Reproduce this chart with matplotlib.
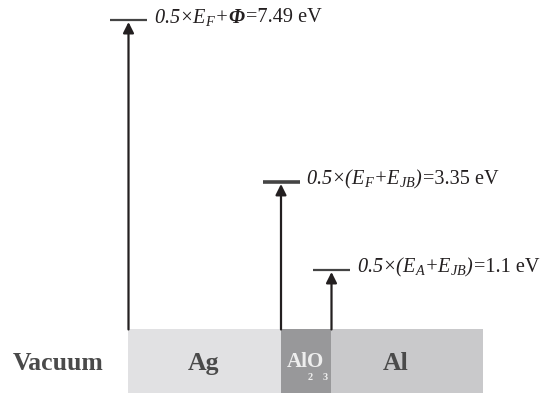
import matplotlib
matplotlib.use("Agg")
import matplotlib.pyplot as plt

plt.rcParams['font.family'] = ['Liberation Serif', 'DejaVu Serif']
plt.rcParams['mathtext.fontset'] = 'custom'
plt.rcParams['mathtext.rm'] = 'Liberation Serif:italic'
plt.rcParams['mathtext.it'] = 'Liberation Serif:italic'
plt.rcParams['mathtext.bf'] = 'Liberation Serif:italic:bold'

# energy levels (eV)
energies = [7.49, 3.35, 1.1]
formulas = [r"$0.5{\times}E_F{+}\mathbf{\Phi}$",
            r"$0.5{\times}(E_F{+}E_{JB})$",
            r"$0.5{\times}(E_A{+}E_{JB})$"]
values_txt = ["=7.49 eV", "=3.35 eV", "=1.1 eV"]

# layers
layers = ["Ag", "AlO", "Al"]
layer_edges = [128, 280.5, 331, 483]
layer_colors = ["#e1e1e3", "#98989a", "#c9c9cb"]

fig = plt.figure(figsize=(5.5, 3.93), dpi=100)
ax = fig.add_axes([0, 0, 1, 1])
ax.set_xlim(0, 550)
ax.set_ylim(-2.053, 7.993)
ax.axis('off')

base = -0.429
bottom = -2.053
for i, name in enumerate(layers):
    x0, x1 = layer_edges[i], layer_edges[i + 1]
    ax.fill_between([x0, x1], bottom, base, color=layer_colors[i], lw=0)

yc = -1.29
ax.text(58, yc, "Vacuum", ha='center', va='center', fontsize=18.5,
        fontweight='bold', color='#4a4a4a')
ax.text(204, yc, "Ag", ha='center', va='center', fontsize=18.5,
        fontweight='bold', color='#4a4a4a')
ax.text(396, yc, "Al", ha='center', va='center', fontsize=18.5,
        fontweight='bold', color='#4a4a4a')
ax.text(305, yc + 0.02, "AlO", ha='center', va='center', fontsize=15,
        fontweight='bold', color='#eeeeee')
ax.text(310, yc - 0.37, "2", ha='center', va='center', fontsize=7.5,
        fontweight='bold', color='#eeeeee')
ax.text(325, yc - 0.37, "3", ha='center', va='center', fontsize=7.5,
        fontweight='bold', color='#eeeeee')

# arrows start on the left edge of each layer
arrow_x = layer_edges[:3]
line_w = [1.6, 2.6, 1.6]
for x, e, f, v, lw in zip(arrow_x, energies, formulas, values_txt, line_w):
    ax.hlines(e, x - 18, x + 19, color='#444444', lw=lw)
    ax.annotate('', xy=(x + 0.5, e - 0.06), xytext=(x + 0.5, base),
                arrowprops=dict(arrowstyle='-|>', color='#231f20', lw=1.6,
                                mutation_scale=16, shrinkA=0, shrinkB=0))
    t = ax.text(x + 26, e + 0.05, f, ha='left', va='center', fontsize=14.6,
                color='#231f20')
    fig.canvas.draw()
    bb = t.get_window_extent().transformed(ax.transData.inverted())
    ax.text(bb.x1, e + 0.05, v, ha='left', va='center', fontsize=14.6,
            color='#231f20')

fig.savefig("out.png", dpi=100)
